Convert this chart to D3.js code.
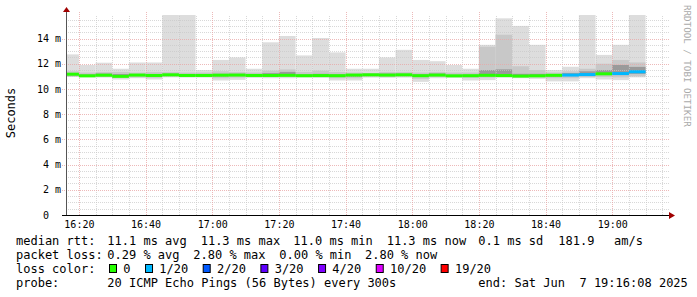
<!DOCTYPE html>
<html>
<head>
<meta charset="utf-8">
<script src="https://cdn.jsdelivr.net/npm/d3@7"></script>
<style>
  body { margin: 0; background: #fff; }
  text { font-family: "DejaVu Sans Mono", monospace; white-space: pre; }
</style>
</head>
<body>
<div id="chart"></div>
<script>

// 5 minute slots (start time of each step)
var slots = ["16:15","16:20","16:25","16:30","16:35","16:40","16:45","16:50","16:55",
             "17:00","17:05","17:10","17:15","17:20","17:25","17:30","17:35","17:40",
             "17:45","17:50","17:55","18:00","18:05","18:10","18:15","18:20","18:25",
             "18:30","18:35","18:40","18:45","18:50","18:55","19:00","19:05"];

// ping spread per slot, in ms
var pingMin = [10.96,10.92,10.90,10.75,10.85,10.75,10.92,10.90,10.90,10.67,10.72,10.88,10.85,10.85,10.90,10.88,10.67,10.67,
               10.90,10.88,10.90,10.56,10.85,10.88,10.67,10.70,10.90,10.85,10.80,10.60,10.60,10.85,10.75,10.70,10.92];
var pingMax = [12.74,11.90,12.08,11.60,12.10,12.10,16.80,16.80,11.50,12.30,12.50,11.60,13.70,14.20,12.66,14.04,12.90,11.60,
               11.60,12.50,13.10,12.30,12.20,11.90,11.60,13.50,15.60,15.00,13.50,11.50,11.76,16.80,12.70,13.50,16.80];
var p10 = [10.98,10.95,10.95,10.88,10.92,10.88,10.98,10.95,10.95,10.85,10.90,10.95,10.95,10.95,10.95,10.95,10.85,10.85,
           10.98,10.95,10.98,10.80,10.95,10.95,10.88,10.90,10.95,10.92,10.92,10.85,10.85,10.95,10.95,10.92,11.00];
var p90 = [11.40,11.30,11.35,11.35,11.30,11.35,11.35,11.30,11.30,11.40,11.35,11.30,11.45,11.55,11.35,11.45,11.35,11.30,
           11.25,11.35,11.35,11.30,11.35,11.30,11.30,13.35,14.30,11.80,11.50,11.30,11.40,11.60,12.00,12.30,12.10];
var p25 = [11.08,11.00,11.02,10.95,11.03,11.00,11.06,11.02,11.02,11.00,11.03,11.02,11.02,11.03,11.00,11.01,10.98,10.98,
           11.05,11.04,11.06,10.98,11.04,11.00,10.98,11.00,11.00,10.97,11.00,10.98,11.02,11.05,11.10,11.10,11.20];
var p75 = [11.25,11.15,11.22,11.18,11.18,11.18,11.20,11.15,11.15,11.20,11.20,11.15,11.25,11.35,11.15,11.20,11.15,11.12,
           11.20,11.22,11.20,11.15,11.22,11.12,11.12,11.50,11.55,11.20,11.20,11.15,11.25,11.40,11.50,11.90,11.75];
var median = [11.17,11.04,11.09,11.00,11.10,11.07,11.12,11.07,11.07,11.09,11.10,11.07,11.07,11.08,11.05,11.06,11.05,11.10,
              11.12,11.10,11.12,11.05,11.10,11.04,11.05,11.08,11.06,11.02,11.04,11.08,11.10,11.14,11.20,11.22,11.36];
// lost pings out of 20 (averaged)
var loss = [0,0,0,0,0,0,0,0,0,0,0,0,0,0,0,0,0,0,
            0,0,0,0,0,0,0,0,0,0,0,0,0.3,0.5,0,0.4,0.56];

var lossLabels = ["0","1/20","2/20","3/20","4/20","10/20","19/20"];
var lossLimits = [0, 1, 2, 3, 4, 10, 19];
var lossColors = ["#26ff00","#00b8ff","#0059ff","#5e00ff","#7e00ff","#dd00ff","#ff0000"];

var yTicks = [0, 2, 4, 6, 8, 10, 12, 14];

//Width, height and plot box
var w = 697;
var h = 297;
var left = 66, right = 666, plotTop = 15, bottom = 215;

var svg = d3.select("#chart")
            .append("svg")
              .attr("width", w)
              .attr("height", h);

var parse = d3.timeParse("%H:%M:%S");
var xScale = d3.scaleTime()
               .domain([parse("16:16:08"), parse("19:16:08")])
               .range([left, right]);
var yScale = d3.scaleLinear()
               .domain([0, 16])
               .range([bottom, 13.3]);

svg.append("defs").append("clipPath").attr("id", "plot")
   .append("rect").attr("x", left).attr("y", plotTop)
   .attr("width", right - left).attr("height", bottom - plotTop);

var bars = slots.map(function(s, i) {
  var t0 = parse(s + ":00");
  return { i: i, t0: t0, t1: d3.timeMinute.offset(t0, 5) };
});

// smoke layers, lightest first
var layers = [[pingMin, pingMax, "#dddddd"], [p10, p90, "#c8c8c8"], [p25, p75, "#9a9a9a"]];
var smoke = svg.append("g").attr("clip-path", "url(#plot)");
layers.forEach(function(l) {
  smoke.selectAll(null)
       .data(bars)
       .enter()
       .append("rect")
       .attr("x", function(d) { return xScale(d.t0); })
       .attr("width", function(d) { return xScale(d.t1) - xScale(d.t0); })
       .attr("y", function(d) { return yScale(l[1][d.i]); })
       .attr("height", function(d) { return yScale(l[0][d.i]) - yScale(l[1][d.i]); })
       .attr("fill", l[2]);
});

// grid on top of the smoke
var grid = svg.append("g").attr("stroke-dasharray", "1,1").attr("shape-rendering", "crispEdges");
var minorY = d3.range(0.5, 16, 0.5).filter(function(v) { return v % 2 != 0; });
grid.selectAll(null).data(minorY).enter().append("line")
    .attr("x1", left).attr("x2", 669)
    .attr("y1", function(d) { return Math.round(yScale(d)) + 0.5; })
    .attr("y2", function(d) { return Math.round(yScale(d)) + 0.5; })
    .attr("stroke", "#c8c8c8").attr("stroke-opacity", 0.7);
var minorX = d3.timeMinute.every(5).range(parse("16:20:00"), parse("19:16:00"))
               .filter(function(t) { return t.getMinutes() % 20 != 0; });
grid.selectAll(null).data(minorX).enter().append("line")
    .attr("x1", function(d) { return Math.round(xScale(d)) + 0.5; })
    .attr("x2", function(d) { return Math.round(xScale(d)) + 0.5; })
    .attr("y1", bottom).attr("y2", plotTop)
    .attr("stroke", "#c8c8c8").attr("stroke-opacity", 0.7);
var majorX = d3.timeMinute.every(20).range(parse("16:20:00"), parse("19:16:00"));
grid.selectAll(null).data(majorX).enter().append("line")
    .attr("x1", function(d) { return Math.round(xScale(d)) + 0.5; })
    .attr("x2", function(d) { return Math.round(xScale(d)) + 0.5; })
    .attr("y1", bottom).attr("y2", 12)
    .attr("stroke", "#e8a8a8").attr("stroke-opacity", 0.8);
grid.selectAll(null).data(yTicks.slice(1)).enter().append("line")
    .attr("x1", 62).attr("x2", 669)
    .attr("y1", function(d) { return Math.round(yScale(d)) + 0.5; })
    .attr("y2", function(d) { return Math.round(yScale(d)) + 0.5; })
    .attr("stroke", "#e8a8a8").attr("stroke-opacity", 0.8);

// median, coloured by loss
function lossColor(v) {
  var k = 0;
  for (var j = 1; j < lossLimits.length; j++) { if (v > lossLimits[j - 1]) k = j; }
  return lossColors[k];
}
svg.append("g").attr("clip-path", "url(#plot)")
   .selectAll("rect")
   .data(bars)
   .enter()
   .append("rect")
   .attr("x", function(d) { return xScale(d.t0); })
   .attr("width", function(d) { return xScale(d.t1) - xScale(d.t0); })
   .attr("y", function(d) { return yScale(median[d.i]) - 1.5; })
   .attr("height", 3)
   .attr("fill", function(d) { return lossColor(loss[d.i]); });

// axes
var x_axis = d3.axisBottom(xScale)
               .ticks(d3.timeMinute.every(20))
               .tickFormat(d3.timeFormat("%H:%M"))
               .tickSize(0).tickPadding(6);
svg.append("g")
   .attr("transform", "translate(0," + bottom + ")")
   .call(x_axis)
   .call(function(g) {
     g.select(".domain").remove();
     g.selectAll("text").attr("font-family", "DejaVu Sans Mono").attr("font-size", 10).attr("fill", "#000");
   });

var y_axis = d3.axisLeft(yScale)
               .tickValues(yTicks)
               .tickFormat(function(d) { return d == 0 ? "0  " : d + " m"; })
               .tickSize(0).tickPadding(5);
svg.append("g")
   .attr("transform", "translate(" + left + ",0)")
   .call(y_axis)
   .call(function(g) {
     g.select(".domain").remove();
     g.selectAll("text").attr("font-family", "DejaVu Sans Mono").attr("font-size", 10).attr("fill", "#000");
   });

svg.append("line").attr("x1", left + 0.5).attr("x2", left + 0.5).attr("y1", bottom).attr("y2", 11)
   .attr("stroke", "#555");
svg.append("line").attr("x1", 62).attr("x2", 670).attr("y1", bottom + 0.5).attr("y2", bottom + 0.5)
   .attr("stroke", "#000");
svg.append("path").attr("d", "M63,12 L66.5,7 L70,12 Z").attr("fill", "#a00000");
svg.append("path").attr("d", "M669,212 L675,215.5 L669,219 Z").attr("fill", "#a00000");

svg.append("text")
   .attr("transform", "translate(15,113) rotate(-90)")
   .attr("text-anchor", "middle")
   .attr("font-size", 12)
   .text("Seconds");

svg.append("text")
   .attr("transform", "translate(684,5) rotate(90)")
   .attr("font-size", 9.2)
   .attr("fill", "#aaaaaa")
   .text("RRDTOOL / TOBI OETIKER");

// legend
var rows = [
  [[16, "median rtt:"], [107.3, "11.1 ms avg"], [200.7, "11.3 ms max"], [293.3, "11.0 ms min"],
   [386.7, "11.3 ms now"], [478.3, "0.1 ms sd"], [558.3, "181.9"], [614, "am/s"]],
  [[16, "packet loss:"], [107.3, "0.29 % avg"], [193.3, "2.80 % max"], [279.3, "0.00 % min"], [365, "2.80 % now"]],
  [[16, "loss color:"]],
  [[16, "probe:"], [107.3, "20 ICMP Echo Pings (56 Bytes) every 300s"], [478.3, "end: Sat Jun  7 19:16:08 2025"]]
];
rows.forEach(function(r, k) {
  r.forEach(function(c) {
    svg.append("text").attr("x", c[0]).attr("y", 245 + k * 14)
       .attr("font-size", 12).attr("fill", "#000").text(c[1]);
  });
});

var lx = 109;
lossLabels.forEach(function(lab, j) {
  svg.append("rect").attr("x", lx + 0.5).attr("y", 264.5).attr("width", 7).attr("height", 8)
     .attr("fill", lossColors[j]).attr("stroke", "#000");
  svg.append("text").attr("x", lx + 14.3).attr("y", 273).attr("font-size", 12).text(lab);
  lx = lx + 14.3 + lab.length * 7.22 + 14.5;
});

</script>
</body>
</html>
